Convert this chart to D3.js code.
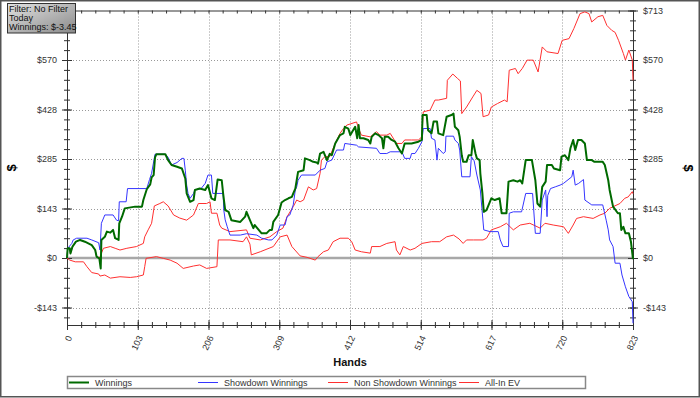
<!DOCTYPE html>
<html>
<head>
<meta charset="utf-8">
<script src="https://cdn.jsdelivr.net/npm/d3@7"></script>
<style>
  body { margin: 0; background: #fff; }
  svg text { font-family: "Liberation Sans", Arial, sans-serif; }
</style>
</head>
<body>
<svg id="chart" width="700" height="398"></svg>
<script>
// hand ticks and dollar ticks as printed on the chart
const handTicks = [0, 102.875, 205.75, 308.625, 411.5, 514.375, 617.25, 720.125, 823];
const handLabels = ["0", "103", "206", "309", "412", "514", "617", "720", "823"];
const dollarTicks = [-142.6, 0, 142.6, 285.2, 427.8, 570.4, 713];
const dollarLabels = ["-$143", "$0", "$143", "$285", "$428", "$570", "$713"];

const seriesNames = ["Winnings", "Showdown Winnings", "Non Showdown Winnings", "All-In EV"];
const infoLines = ["Filter: No Filter", "Today", "Winnings: $-3.45"];

// [hand, dollars]
const winnings = [[0,0],[1,28],[4,28],[5,13],[8,33],[13,47],[19,52],[26,47],[36,37],[41,23],[43,4],[47,-1],[49,-30],[50,52],[55,61],[58,76],[63,73],[67,81],[70,57],[75,52],[76,100],[80,119],[84,143],[99,148],[109,148],[111,167],[116,198],[121,212],[123,232],[126,239],[128,290],[130,299],[143,299],[147,282],[152,268],[160,263],[167,258],[172,229],[174,186],[179,162],[184,167],[186,196],[193,200],[201,196],[205,210],[210,172],[215,167],[219,226],[225,224],[227,186],[230,138],[235,133],[239,109],[252,104],[259,119],[261,133],[266,109],[271,86],[273,95],[283,71],[290,71],[295,81],[298,81],[300,104],[307,124],[312,160],[317,167],[322,172],[327,176],[329,186],[332,200],[334,224],[336,248],[344,253],[346,287],[353,282],[358,277],[363,275],[365,272],[368,301],[373,306],[378,282],[382,300],[385,296],[390,330],[397,354],[402,359],[404,378],[409,373],[412,354],[419,378],[422,345],[424,383],[426,345],[431,345],[438,340],[441,330],[443,349],[448,359],[453,354],[458,345],[460,316],[462,349],[467,349],[472,340],[477,335],[482,316],[487,301],[491,330],[501,330],[511,335],[516,340],[517,412],[523,412],[525,368],[530,359],[533,393],[538,393],[540,359],[547,354],[552,407],[559,412],[562,416],[564,378],[569,368],[571,349],[574,296],[576,277],[581,277],[584,296],[588,296],[590,340],[594,301],[596,287],[600,282],[601,244],[604,186],[606,133],[610,138],[617,172],[622,167],[629,172],[632,129],[639,129],[642,220],[649,224],[655,220],[659,224],[662,215],[667,282],[676,282],[681,224],[684,157],[688,148],[691,205],[696,220],[698,268],[705,268],[708,258],[717,253],[719,292],[724,296],[729,282],[732,316],[736,340],[739,311],[743,340],[748,340],[753,330],[756,282],[763,282],[767,277],[779,277],[782,268],[787,224],[789,196],[792,167],[794,148],[801,129],[804,129],[806,81],[809,90],[812,71],[817,71],[820,47],[823,-3.45]];

const showdown = [[0,0],[1,28],[7,42],[9,52],[14,57],[29,57],[36,52],[46,44],[48,23],[50,100],[55,124],[67,124],[72,109],[75,107],[76,162],[86,162],[88,200],[116,200],[120,226],[123,244],[128,299],[143,299],[147,290],[152,268],[160,275],[167,287],[170,287],[172,253],[174,210],[176,186],[179,172],[184,186],[186,196],[195,200],[201,215],[205,239],[210,239],[212,186],[227,186],[228,138],[230,110],[233,90],[237,66],[252,66],[261,70],[276,66],[283,57],[293,52],[298,52],[305,66],[310,95],[317,95],[320,119],[324,124],[329,153],[332,196],[334,205],[336,224],[341,239],[361,239],[368,253],[375,258],[378,277],[385,282],[392,311],[402,311],[404,330],[421,325],[424,320],[450,316],[455,301],[465,301],[470,306],[487,306],[491,287],[499,287],[501,301],[506,301],[511,316],[516,335],[518,373],[528,373],[530,345],[535,340],[538,282],[540,316],[547,301],[550,306],[551,351],[562,351],[564,340],[569,330],[571,311],[574,234],[586,234],[588,292],[592,280],[596,239],[601,196],[606,81],[615,76],[627,76],[630,52],[634,33],[642,33],[643,129],[649,133],[661,133],[667,186],[677,186],[681,71],[688,71],[691,167],[696,196],[698,119],[699,180],[703,200],[710,205],[717,210],[722,215],[734,234],[736,253],[739,210],[744,215],[751,226],[753,167],[763,153],[779,153],[784,109],[787,81],[789,52],[794,33],[797,-15],[804,-15],[807,-49],[812,-83],[817,-111],[822,-126],[823,-188]];

const nonShowdown = [[0,0],[4,-6],[12,-11],[24,-11],[29,-25],[36,-42],[46,-46],[48,-52],[55,-49],[63,-58],[77,-54],[92,-56],[101,-54],[111,-49],[113,-25],[115,-1],[130,4],[140,-1],[150,-6],[160,-15],[169,-30],[184,-23],[193,-20],[203,-30],[218,-25],[220,52],[237,52],[256,47],[261,61],[266,40],[268,9],[281,18],[300,33],[310,61],[320,66],[327,33],[339,6],[349,2],[361,-6],[365,4],[373,18],[380,23],[387,47],[397,57],[409,57],[414,47],[419,23],[428,18],[441,14],[443,33],[455,33],[465,42],[477,47],[479,23],[484,9],[489,33],[499,23],[506,28],[516,42],[530,47],[542,47],[552,61],[562,66],[570,55],[576,42],[581,52],[591,52],[605,52],[610,57],[617,81],[630,90],[639,100],[649,81],[659,95],[673,100],[688,86],[695,100],[707,95],[722,90],[729,71],[736,95],[741,114],[751,119],[765,114],[775,124],[782,129],[789,143],[804,157],[811,172],[816,176],[822,191],[823,185]];

const allInEv = [[0,0],[1,28],[4,28],[5,13],[8,33],[13,47],[19,52],[26,47],[36,37],[41,23],[43,4],[47,-1],[48,4],[53,28],[63,33],[70,28],[77,23],[87,28],[101,33],[111,42],[113,61],[118,81],[123,100],[127,150],[135,157],[140,162],[147,150],[155,124],[164,115],[174,109],[184,124],[191,157],[203,157],[208,162],[210,129],[218,129],[222,95],[225,86],[237,76],[261,81],[266,57],[281,52],[295,61],[305,76],[314,86],[320,119],[329,148],[334,167],[339,162],[344,167],[351,205],[358,196],[363,200],[368,244],[370,282],[375,292],[382,292],[390,330],[397,359],[402,373],[407,383],[421,392],[424,373],[428,354],[441,349],[450,364],[455,354],[465,354],[470,359],[479,330],[487,330],[491,340],[501,340],[511,340],[516,349],[518,421],[528,426],[535,455],[540,455],[552,460],[553,512],[561,530],[568,517],[572,510],[574,416],[581,435],[590,464],[596,483],[602,474],[605,407],[613,412],[617,435],[626,445],[636,455],[640,450],[643,541],[652,546],[656,531],[662,546],[669,570],[678,570],[685,536],[691,608],[698,594],[714,589],[720,627],[730,632],[737,661],[746,704],[753,709],[759,704],[763,680],[772,695],[779,699],[785,670],[792,656],[797,650],[802,627],[809,589],[812,570],[817,599],[822,570],[823,512]];

const colors = ["#006a00", "#3535ff", "#ff3030", "#ff3030"];

const svg = d3.select("#chart");
const plotLeft = 67, plotRight = 633, plotTop = 10.5, plotBottom = 325;

const x = d3.scaleLinear().domain([0, 823]).range([plotLeft, plotRight]);
const y = d3.scaleLinear().domain([-193, 713]).range([plotBottom, plotTop]);

// outer frame
svg.append("rect")
    .attr("x", 0.75).attr("y", 0.75)
    .attr("width", 698.5).attr("height", 396)
    .attr("fill", "#fff")
    .attr("stroke", "#555")
    .attr("stroke-width", 1.5);

// grid
const grid = svg.append("g").attr("stroke", "#999").attr("stroke-dasharray", "1,2");
grid.selectAll("line.v")
  .data(handTicks.slice(1, -1))
  .enter().append("line")
    .attr("x1", d => Math.round(x(d)) + 0.5).attr("x2", d => Math.round(x(d)) + 0.5)
    .attr("y1", plotTop).attr("y2", plotBottom);
grid.selectAll("line.h")
  .data(dollarTicks.filter(d => d !== 0 && d !== 713))
  .enter().append("line")
    .attr("x1", plotLeft).attr("x2", plotRight)
    .attr("y1", d => Math.round(y(d)) + 0.5).attr("y2", d => Math.round(y(d)) + 0.5);

// zero line
svg.append("line")
    .attr("x1", plotLeft).attr("x2", plotRight)
    .attr("y1", y(0)).attr("y2", y(0))
    .attr("stroke", "#a8a8a8")
    .attr("stroke-width", 2.5);

const handMinor = d3.range(0, 823.01, 823 / 40);
const dollarMinor = d3.range(-171.12, 713.01, 28.52);

const styleAxis = (g) => {
  g.select(".domain").attr("stroke", "#333");
  g.selectAll(".tick line").attr("stroke", "#333");
  g.selectAll("text").attr("fill", "#333").style("font-size", "9px");
};

// left axis (the top label sits under the filter box, so it is left out)
const yLeft = svg.append("g")
    .attr("transform", `translate(${plotLeft},0)`)
    .call(d3.axisLeft(y).tickValues(dollarTicks)
      .tickFormat((d, i) => d === 713 ? "" : dollarLabels[i])
      .tickSize(5).tickSizeOuter(0).tickPadding(5));
yLeft.selectAll(".tick line").attr("x1", 5);
styleAxis(yLeft);
const yLeftMinor = svg.append("g")
    .attr("transform", `translate(${plotLeft},0)`)
    .call(d3.axisLeft(y).tickValues(dollarMinor).tickFormat("").tickSize(3).tickSizeOuter(0));
yLeftMinor.selectAll(".tick line").attr("x1", 3);
yLeftMinor.select(".domain").remove();
styleAxis(yLeftMinor);

// right axis
const yRight = svg.append("g")
    .attr("transform", `translate(${plotRight},0)`)
    .call(d3.axisRight(y).tickValues(dollarTicks).tickFormat((d, i) => dollarLabels[i])
      .tickSize(5).tickSizeOuter(0).tickPadding(5));
yRight.selectAll(".tick line").attr("x1", -5);
styleAxis(yRight);
const yRightMinor = svg.append("g")
    .attr("transform", `translate(${plotRight},0)`)
    .call(d3.axisRight(y).tickValues(dollarMinor).tickFormat("").tickSize(3).tickSizeOuter(0));
yRightMinor.selectAll(".tick line").attr("x1", -3);
yRightMinor.select(".domain").remove();
styleAxis(yRightMinor);

// bottom axis
const xAxis = svg.append("g")
    .attr("transform", `translate(0,${plotBottom})`)
    .call(d3.axisBottom(x).tickValues(handTicks).tickFormat((d, i) => handLabels[i])
      .tickSize(5).tickSizeOuter(0));
xAxis.selectAll(".tick line").attr("y1", -5);
xAxis.selectAll("text")
    .attr("x", 0).attr("y", 0).attr("dy", "0.35em")
    .attr("transform", "translate(2,11) rotate(-65)")
    .style("text-anchor", "end");
styleAxis(xAxis);
const xMinor = svg.append("g")
    .attr("transform", `translate(0,${plotBottom})`)
    .call(d3.axisBottom(x).tickValues(handMinor).tickFormat("").tickSize(3).tickSizeOuter(0));
xMinor.selectAll(".tick line").attr("y1", -3);
xMinor.select(".domain").remove();
styleAxis(xMinor);

// top frame with ticks
const xTop = svg.append("g")
    .attr("transform", `translate(0,${plotTop})`)
    .call(d3.axisBottom(x).tickValues(handMinor).tickFormat("").tickSize(3).tickSizeOuter(0));
styleAxis(xTop);

// series
const line = d3.line()
    .x(d => x(d[0]))
    .y(d => y(d[1]));

const plot = svg.append("g").attr("fill", "none");
[[nonShowdown, 2, 1], [allInEv, 3, 1], [showdown, 1, 1], [winnings, 0, 2]].forEach(([data, c, w]) => {
  plot.append("path")
      .datum(data)
      .attr("d", line)
      .attr("stroke", colors[c])
      .attr("stroke-width", w)
      .attr("stroke-linejoin", "round");
});

// axis titles
svg.append("text")
    .attr("transform", "translate(16,168) rotate(-90)")
    .attr("text-anchor", "middle")
    .style("font-size", "13px").style("font-weight", "bold")
    .text("$");
svg.append("text")
    .attr("transform", "translate(684,168) rotate(90)")
    .attr("text-anchor", "middle")
    .style("font-size", "13px").style("font-weight", "bold")
    .text("$");
svg.append("text")
    .attr("x", (plotLeft + plotRight) / 2).attr("y", 366)
    .attr("text-anchor", "middle")
    .style("font-size", "11px").style("font-weight", "bold")
    .attr("fill", "#111")
    .text("Hands");

// legend
svg.append("rect")
    .attr("x", 67.5).attr("y", 376.5)
    .attr("width", 518).attr("height", 12)
    .attr("fill", "#fff")
    .attr("stroke", "#888")
    .attr("stroke-width", 1.5);
const legendX = [69, 198, 328, 459];
const legend = svg.append("g").selectAll("g")
  .data(seriesNames)
  .enter().append("g")
    .attr("transform", (d, i) => `translate(${legendX[i]},382.5)`);
legend.append("line")
    .attr("x1", 0).attr("x2", 20)
    .attr("stroke", (d, i) => colors[i])
    .attr("stroke-width", (d, i) => i === 0 ? 2 : 1);
legend.append("text")
    .attr("x", 26).attr("y", 3.5)
    .attr("fill", "#333")
    .style("font-size", "9px")
    .text(d => d);

// filter info box
const grad = svg.append("defs").append("linearGradient")
    .attr("id", "boxfill")
    .attr("x1", "0").attr("y1", "0").attr("x2", "1").attr("y2", "1");
grad.append("stop").attr("offset", "0").attr("stop-color", "#e2e2e2");
grad.append("stop").attr("offset", "1").attr("stop-color", "#8a8a8a");
svg.append("rect")
    .attr("x", 7.5).attr("y", 3.5)
    .attr("width", 68).attr("height", 29.5)
    .attr("fill", "url(#boxfill)")
    .attr("stroke", "#333");
svg.append("g").selectAll("text")
  .data(infoLines)
  .enter().append("text")
    .attr("x", 9).attr("y", (d, i) => 11.5 + i * 9)
    .attr("fill", "#111")
    .style("font-size", "9px")
    .text(d => d);
</script>
</body>
</html>
